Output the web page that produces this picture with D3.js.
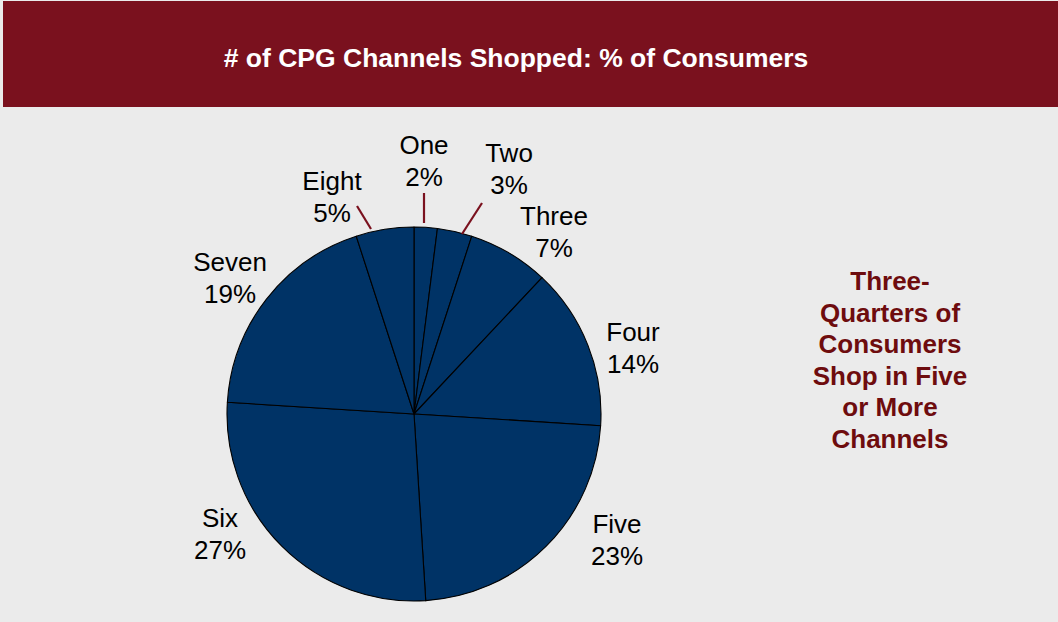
<!DOCTYPE html>
<html>
<head>
<meta charset="utf-8">
<script src="https://cdn.jsdelivr.net/npm/d3@7"></script>
<style>
  html, body { margin: 0; padding: 0; background: #ebebeb; }
  svg { display: block; }
</style>
</head>
<body>
<svg id="chart" width="1058" height="622"></svg>
<script>
// Share of consumers by number of CPG channels shopped
const categories = ["One", "Two", "Three", "Four", "Five", "Six", "Seven", "Eight"];
const values = [2, 3, 7, 14, 23, 27, 19, 5];
const title = "# of CPG Channels Shopped: % of Consumers";
const calloutLines = ["Three-", "Quarters of", "Consumers", "Shop in Five", "or More", "Channels"];

const W = 1058, H = 622;
const svg = d3.select("#chart");

// page background and title banner
svg.append("rect").attr("width", W).attr("height", H).attr("fill", "#ebebeb");
svg.append("rect").attr("x", 3).attr("y", 1).attr("width", W - 3).attr("height", 106)
  .attr("fill", "#7a111e");
svg.append("text").attr("x", 516).attr("y", 67)
  .attr("text-anchor", "middle")
  .attr("font-family", "Liberation Sans, Arial, sans-serif")
  .attr("font-weight", "bold").attr("font-size", 26.5)
  .attr("fill", "#ffffff").text(title);

// pie
const cx = 414, cy = 414, R = 187;
const data = categories.map((c, i) => ({ name: c, value: values[i] }));
const pie = d3.pie().value(d => d.value).sort(null).startAngle(0).endAngle(2 * Math.PI);
const arcs = pie(data);
const arc = d3.arc().innerRadius(0).outerRadius(R);

const g = svg.append("g").attr("transform", `translate(${cx},${cy})`);
g.selectAll("path").data(arcs).enter().append("path")
  .attr("d", arc)
  .attr("fill", "#003366")
  .attr("stroke", "#000000")
  .attr("stroke-width", 1.1)
  .attr("stroke-linejoin", "round");

// label placement per slice (x centre, baseline of first line) and leader lines for thin slices
const labelPos = {
  One:   [424, 154],
  Two:   [509, 162],
  Three: [554, 225],
  Four:  [633, 341],
  Five:  [617, 533],
  Six:   [220, 527],
  Seven: [230, 271],
  Eight: [332, 190]
};
const leaders = {
  One:   [[424, 193], [424, 223]],
  Two:   [[482, 203], [462, 234]],
  Eight: [[357, 206], [371, 229]]
};

Object.entries(leaders).forEach(([k, pts]) => {
  svg.append("line")
    .attr("x1", pts[0][0]).attr("y1", pts[0][1])
    .attr("x2", pts[1][0]).attr("y2", pts[1][1])
    .attr("stroke", "#7a111e").attr("stroke-width", 2.2);
});

const lab = svg.append("g")
  .attr("font-family", "Liberation Sans, Arial, sans-serif")
  .attr("font-size", 26).attr("fill", "#000000").attr("text-anchor", "middle");
arcs.forEach(a => {
  const p = labelPos[a.data.name];
  const t = lab.append("text").attr("x", p[0]).attr("y", p[1]);
  t.append("tspan").attr("x", p[0]).attr("dy", 0).text(a.data.name);
  t.append("tspan").attr("x", p[0]).attr("dy", 32).text(a.data.value + "%");
});

// callout text
const call = svg.append("text")
  .attr("x", 890).attr("y", 290)
  .attr("text-anchor", "middle")
  .attr("font-family", "Liberation Sans, Arial, sans-serif")
  .attr("font-weight", "bold").attr("font-size", 26)
  .attr("fill", "#6e0c0e");
calloutLines.forEach((l, i) => {
  call.append("tspan").attr("x", 890).attr("dy", i === 0 ? 0 : 31.5).text(l);
});
</script>
</body>
</html>
